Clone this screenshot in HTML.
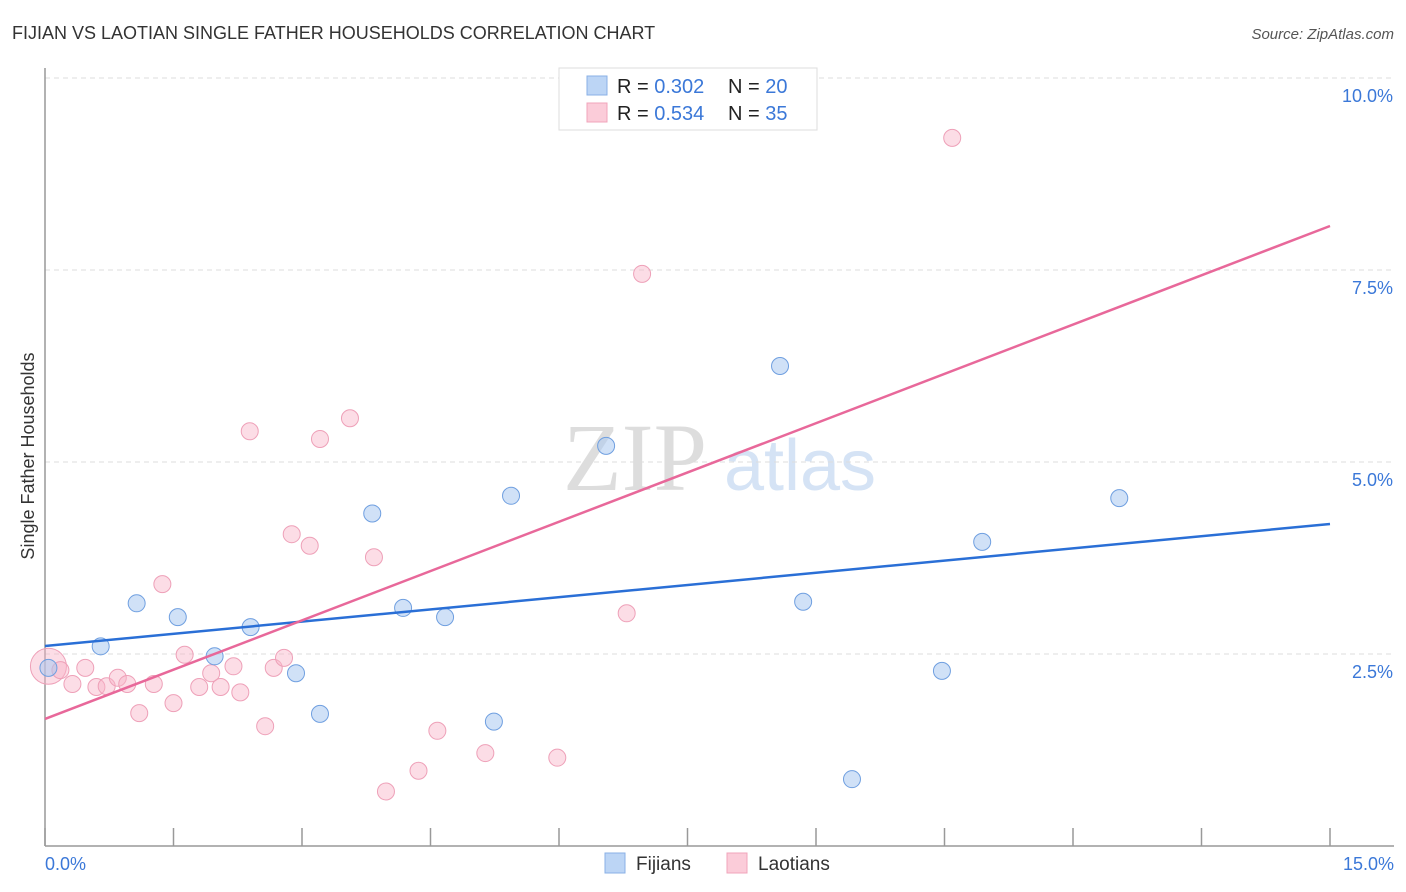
<!DOCTYPE html>
<html><head><meta charset="utf-8"><style>
body{margin:0;background:#fff;font-family:"Liberation Sans",sans-serif;}
svg{display:block}
</style></head><body>
<svg id="c" width="1406" height="892" xmlns="http://www.w3.org/2000/svg">
<text x="12" y="39" font-size="18" fill="#333">FIJIAN VS LAOTIAN SINGLE FATHER HOUSEHOLDS CORRELATION CHART</text>
<text x="1394" y="39" font-size="15" fill="#555" font-style="italic" text-anchor="end">Source: ZipAtlas.com</text>
<text x="635" y="490" font-size="96" fill="#ddd" font-family="Liberation Serif,serif" text-anchor="middle">ZIP</text>
<text x="800" y="490" font-size="72" fill="#d5e3f5" text-anchor="middle">atlas</text>
<g id="grid"></g>
<line x1="45" y1="68" x2="45" y2="846" stroke="#999" stroke-width="1.5"/>
<line x1="45" y1="846" x2="1394" y2="846" stroke="#999" stroke-width="1.5"/>
<g id="ticks"></g>
<g id="pts"></g>
<g id="lines"></g>
<text x="34" y="456" font-size="18" fill="#333" text-anchor="middle" transform="rotate(-90 34 456)">Single Father Households</text>
<text x="45" y="870" font-size="18" fill="#3b78d8">0.0%</text>
<text x="1394" y="870" font-size="18" fill="#3b78d8" text-anchor="end">15.0%</text>
<g>
<rect x="559" y="68" width="258" height="62" fill="#fff" stroke="#ddd"/>
<rect x="587" y="76" width="20" height="19" fill="#bcd5f5" stroke="#8ab0e6"/>
<rect x="587" y="103" width="20" height="19" fill="#fbccd9" stroke="#f0a4bb"/>
<text x="617" y="93" font-size="20" fill="#222">R = <tspan fill="#3b78d8">0.302</tspan><tspan x="728">N = </tspan><tspan fill="#3b78d8">20</tspan></text>
<text x="617" y="120" font-size="20" fill="#222">R = <tspan fill="#3b78d8">0.534</tspan><tspan x="728">N = </tspan><tspan fill="#3b78d8"> 35</tspan></text>
</g>
<g>
<rect x="605" y="853" width="20" height="20" fill="#bcd5f5" stroke="#8ab0e6"/>
<text x="636" y="870" font-size="19" fill="#333">Fijians</text>
<rect x="727" y="853" width="20" height="20" fill="#fbccd9" stroke="#f0a4bb"/>
<text x="758" y="870" font-size="19" fill="#333">Laotians</text>
</g>
</svg>
<script>
const yTicks=[2.5,5.0,7.5,10.0];
const yTickLabels=["2.5%","5.0%","7.5%","10.0%"];
const xTicks=[0,1.5,3,4.5,6,7.5,9,10.5,12,13.5,15];
const fijX=[0.04,0.65,1.07,1.55,1.98,2.4,2.93,3.21,3.82,4.18,4.67,5.24,5.44,6.55,8.58,8.85,9.42,10.47,10.94,12.54];
const fijY=[2.32,2.6,3.16,2.98,2.47,2.85,2.25,1.72,4.33,3.1,2.98,1.62,4.56,5.21,6.25,3.18,0.87,2.28,3.96,4.53];
const laoX=[0.04,0.18,0.32,0.47,0.6,0.72,0.85,0.96,1.1,1.27,1.37,1.5,1.63,1.8,1.94,2.05,2.2,2.28,2.39,2.57,2.67,2.79,2.88,3.09,3.21,3.56,3.84,3.98,4.36,4.58,5.14,5.98,6.79,6.97,10.59];
const laoY=[2.34,2.29,2.11,2.32,2.07,2.08,2.19,2.11,1.73,2.11,3.41,1.86,2.49,2.07,2.25,2.07,2.34,2.0,5.4,1.56,2.32,2.45,4.06,3.91,5.3,5.57,3.76,0.71,0.98,1.5,1.21,1.15,3.03,7.45,9.22];
const laoR=[18];
const fijLine=[2.604,4.193];
const laoLine=[1.654,8.073];
const NS="http://www.w3.org/2000/svg";
const X=v=>45+v*(1285/15);
const Y=v=>846-v*76.8;
function mk(t,a,p){const e=document.createElementNS(NS,t);for(const k in a)e.setAttribute(k,a[k]);p.appendChild(e);return e;}
const grid=document.getElementById('grid'),ticks=document.getElementById('ticks'),pts=document.getElementById('pts'),lines=document.getElementById('lines');
yTicks.forEach((v,i)=>{
const l=mk('line',{x1:45,x2:1394,y1:Y(v),y2:Y(v),stroke:'#ddd','stroke-dasharray':'5,4'},grid);


const t=mk('text',{x:1393,y:Y(v)+24,'font-size':18,fill:'#3b78d8','text-anchor':'end'},grid);
t.textContent=yTickLabels[i];


});
xTicks.forEach(v=>{
const l=mk('line',{x1:X(v),x2:X(v),y1:828,y2:846,stroke:'#999','stroke-width':1.5},ticks);


});
laoX.forEach((x,i)=>{
const c=mk('circle',{cx:X(x),cy:Y(laoY[i]),r:laoR[i]||8.5,fill:'rgba(248,180,200,0.45)',stroke:'#eea0b8','stroke-width':1},pts);


});
fijX.forEach((x,i)=>{
const c=mk('circle',{cx:X(x),cy:Y(fijY[i]),r:8.5,fill:'rgba(170,200,240,0.55)',stroke:'#6f9fe0','stroke-width':1},pts);


});
const bl=mk('line',{x1:X(0),y1:Y(fijLine[0]),x2:X(15),y2:Y(fijLine[1]),stroke:'#2a6fd6','stroke-width':2.5},lines);


const pl=mk('line',{x1:X(0),y1:Y(laoLine[0]),x2:X(15),y2:Y(laoLine[1]),stroke:'#e8689a','stroke-width':2.5},lines);


</script>
</body></html>
